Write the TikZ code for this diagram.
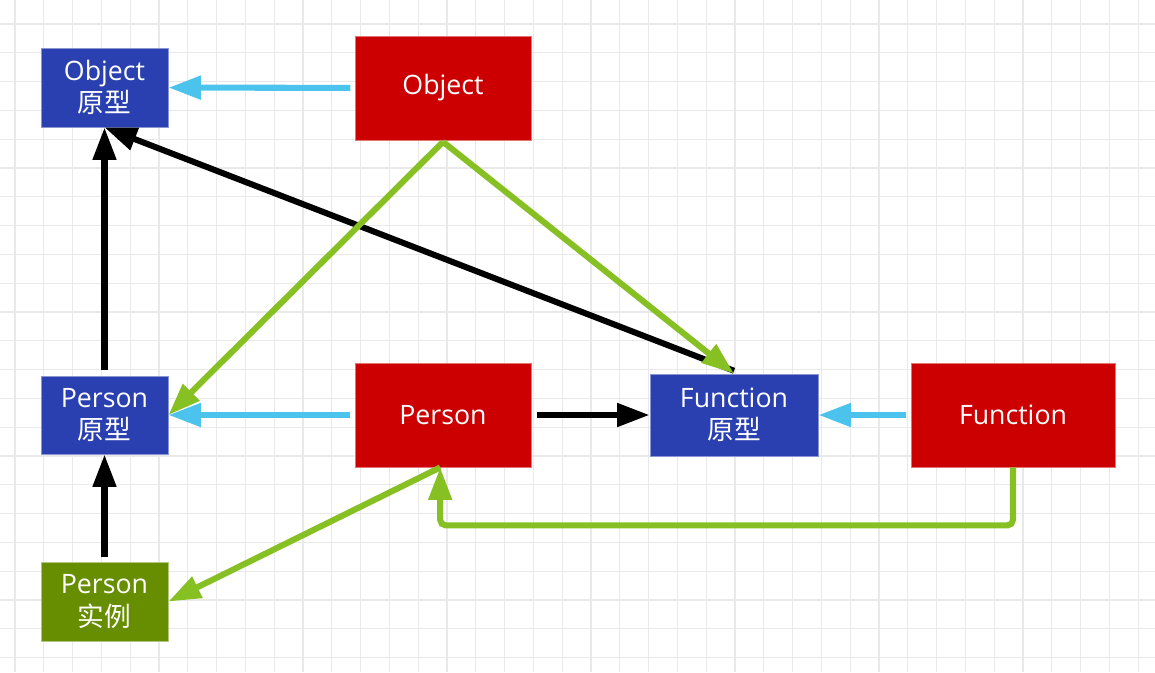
\documentclass[tikz,border=0pt]{standalone}
\usepackage{fontspec}
\setmainfont{Open Sans}
\newfontfamily\cjk{Noto Sans CJK SC}
\usetikzlibrary{arrows.meta, positioning}

\definecolor{protoblue}{HTML}{2A40B0}
\definecolor{ctorred}{HTML}{CC0000}
\definecolor{instgreen}{HTML}{678E00}
\definecolor{linkcyan}{HTML}{4CC3ED}
\definecolor{linkgreen}{HTML}{86C023}
\definecolor{gridgray}{HTML}{E9E9E9}

\begin{document}
\begin{tikzpicture}[
        x=0.025cm, y=-0.025cm,
        >={Triangle[length=23pt, width=16pt]},
        box/.style={text=white, align=center, inner sep=0pt,
        font=\fontsize{19}{23}\selectfont},
        proto/.style={box, fill=protoblue, draw=protoblue!55!white, line width=0.6pt},
        ctor/.style={box, fill=ctorred, draw=ctorred!55!white, line width=0.6pt,
        minimum width=4.4cm, minimum height=2.6cm},
        inst/.style={box, fill=instgreen, draw=instgreen!50!white, line width=0.6pt},
        parr/.style={->, line width=4.3pt, black},
        carr/.style={->, line width=4.3pt, linkcyan, shorten <=3pt},
        garr/.style={->, line width=4.3pt, linkgreen}
      ]
      \useasboundingbox (0,0) rectangle (1155,672);
      % Grid
      \foreach \gx in {15,43.8,...,1160}
        \draw[gridgray, line width=0.9pt] (\gx,0) -- (\gx,672);
      \foreach \gy in {24,52.8,...,680}
        \draw[gridgray, line width=0.9pt] (0,\gy) -- (1155,\gy);

      % Nodes
      \node[proto, minimum width=3.175cm, minimum height=1.975cm] (objproto) at (104.5,87.5)
      {Object\\{\cjk 原型}};
      \node[ctor] (objfn) at (443,88) {Object};
      \node[proto, minimum width=3.175cm, minimum height=1.95cm] (personproto) at (104.5,415)
      {Person\\{\cjk 原型}};
      \node[ctor] (personfn) at (443,415) {Person};
      \node[proto, minimum width=4.2cm, minimum height=2.05cm] (fnproto) at (734,415)
      {Function\\{\cjk 原型}};
      \node[ctor, minimum width=5.1cm] (fnfn) at (1013,415) {Function};
      \node[inst, minimum width=3.175cm, minimum height=1.975cm] (personinst) at (104.5,601.5)
      {Person\\{\cjk 实例}};

      % prototype links
      \draw[carr] (objfn) -- (objproto);
      \draw[carr] (personfn) -- (personproto);
      \draw[carr] (fnfn) -- (fnproto);

      % __proto__ chain
      \draw[parr] ([yshift=4pt]personproto.north) -- (objproto.south);
      \draw[parr] ([yshift=2pt]fnproto.north) -- (objproto.south);
      \draw[parr] ([xshift=4pt]personfn.east) -- (fnproto.west);
      \draw[parr] ([yshift=3pt]personinst.north) -- (personproto.south);

      % constructors
      \draw[garr] ([yshift=-1pt]objfn.south) -- (personproto.east);
      \draw[garr] ([yshift=-1pt]objfn.south) -- (fnproto.north);
      \draw[garr] ([xshift=-2pt]personfn.south) -- (personinst.east);
      \draw[garr, rounded corners=4pt] (fnfn.south) -- ++(0,58) -| ([xshift=-2pt]personfn.south);
    \end{tikzpicture}
\end{document}
